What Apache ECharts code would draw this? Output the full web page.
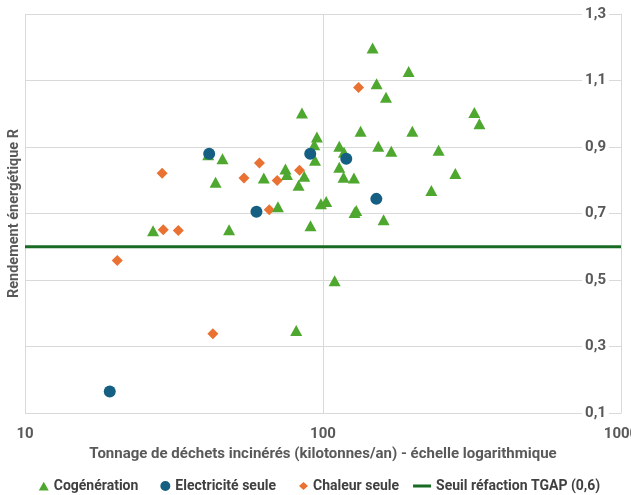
<!DOCTYPE html>
<html>
<head>
<meta charset="utf-8">
<script src="https://cdn.jsdelivr.net/npm/echarts@6/dist/echarts.min.js"></script>
<style>
  html, body { margin: 0; padding: 0; background: #fff; }
  #chart { width: 631px; height: 495px; }
</style>
</head>
<body>
<div id="chart"></div>
<script>
// Tonnage (kt/an) et rendement énergétique R par type de valorisation
const cogenTonnage = [26.9, 41.2, 46.0, 43.6, 48.4, 63.3, 74.8, 75.7, 70.6, 82.8, 86.5, 81.3, 85.0,
  95.4, 93.5, 94.0, 90.8, 98.4, 102.5, 109.4, 113.4, 117.6, 113.4, 117.2, 127.0, 127.6, 129.3,
  133.7, 146.7, 151.3, 153.3, 162.7, 159.7, 169.5, 193.8, 199.4, 231.0, 244.3, 278.0, 322.0, 334.9];
const cogenRendement = [0.648, 0.877, 0.865, 0.794, 0.651, 0.807, 0.834, 0.817, 0.720, 0.785, 0.812, 0.348, 1.002,
  0.930, 0.907, 0.860, 0.663, 0.729, 0.736, 0.498, 0.902, 0.884, 0.839, 0.809, 0.807, 0.703, 0.709,
  0.947, 1.198, 1.090, 0.902, 1.050, 0.681, 0.887, 1.127, 0.947, 0.769, 0.890, 0.820, 1.004, 0.970];

const elecTonnage = [19.25, 41.5, 59.8, 90.6, 119.7, 151.0];
const elecRendement = [0.165, 0.880, 0.705, 0.880, 0.865, 0.744];

const chaleurTonnage = [20.4, 28.85, 29.1, 32.7, 42.7, 54.3, 61.2, 66.0, 70.2, 83.4, 131.6];
const chaleurRendement = [0.559, 0.821, 0.651, 0.649, 0.338, 0.807, 0.852, 0.711, 0.799, 0.830, 1.079];

const seuilTonnage = [10, 1000];
const seuilRendement = [0.6, 0.6];

const seriesNames = ['Cogénération', 'Electricité seule', 'Chaleur seule', 'Seuil réfaction TGAP (0,6)'];
const xAxisTitle = 'Tonnage de déchets incinérés (kilotonnes/an) - échelle logarithmique';
const yAxisTitle = 'Rendement énergétique R';

const pairs = (xs, ys) => xs.map((x, i) => [x, ys[i]]);

const FONT = 'Roboto, "Liberation Sans", sans-serif';
const GREY = '#595959';
const GRID = '#d9d9d9';

// Legend glyphs in an 18x10 box; the stray points fix the box corners so
// each glyph keeps its own size and sits against the label.
const BOX = 'M0,0 L0.01,0 M0,10 L0.01,10 M18,0 L18,0.01 ';
const ICONS = {
  triangle: 'path://' + BOX + 'M13,0.8 L18,9.6 L8,9.6 Z',
  circle: 'path://' + BOX + 'M18,5 A5,5 0 1 1 8,5 A5,5 0 1 1 18,5 Z',
  diamond: 'path://' + BOX + 'M13.5,1 L18,5 L13.5,9 L9,5 Z',
  line: 'path://' + BOX + 'M0,3.6 L18,3.6 L18,6.4 L0,6.4 Z'
};

const chart = echarts.init(document.getElementById('chart'), null, { renderer: 'canvas' });

chart.setOption({
  animation: false,
  backgroundColor: '#fff',
  textStyle: { fontFamily: FONT },
  grid: { left: 25, right: 10, top: 14, bottom: 82, containLabel: false, outerBoundsMode: 'none' },
  xAxis: {
    type: 'log',
    logBase: 10,
    min: 10,
    max: 1000,
    name: xAxisTitle,
    nameLocation: 'middle',
    nameGap: 34,
    nameTextStyle: { color: GREY, fontWeight: 'bold', fontSize: 15, fontFamily: FONT },
    axisLine: { show: false },
    axisTick: { show: false },
    splitLine: { show: true, lineStyle: { color: GRID, width: 1 } },
    minorTick: { show: false },
    axisLabel: {
      color: GREY, fontWeight: 'bold', fontSize: 15, margin: 14, fontFamily: FONT,
      formatter: v => String(Math.round(v))
    }
  },
  yAxis: [
    {
      type: 'value',
      position: 'right',
      min: 0.1,
      max: 1.3,
      interval: 0.2,
      axisLine: { show: true, lineStyle: { color: GRID, width: 1 } },
      axisTick: { show: false },
      splitLine: { show: true, lineStyle: { color: GRID, width: 1 } },
      axisLabel: {
        inside: true,
        margin: 12,
        color: GREY,
        fontWeight: 'bold',
        fontSize: 15,
        fontFamily: FONT,
        backgroundColor: '#fff',
        padding: [0, 3, 0, 3],
        formatter: v => v.toFixed(1).replace('.', ',')
      }
    },
    {
      // Left-hand axis only carries the title
      type: 'value',
      position: 'left',
      min: 0.1,
      max: 1.3,
      interval: 0.2,
      name: yAxisTitle,
      nameLocation: 'middle',
      nameRotate: 90,
      nameGap: 3,
      nameTextStyle: { color: GREY, fontWeight: 'bold', fontSize: 14.5, fontFamily: FONT },
      axisLine: { show: false },
      axisTick: { show: false },
      splitLine: { show: false },
      axisLabel: { show: false }
    }
  ],
  legend: {
    bottom: 2,
    left: 'center',
    padding: 0,
    itemGap: 14,
    itemWidth: 18,
    itemHeight: 10,
    textStyle: { color: '#404040', fontWeight: 'bold', fontSize: 14, fontFamily: FONT },
    data: [
      { name: seriesNames[0], icon: ICONS.triangle },
      { name: seriesNames[1], icon: ICONS.circle },
      { name: seriesNames[2], icon: ICONS.diamond },
      { name: seriesNames[3], icon: ICONS.line }
    ]
  },
  series: [
    {
      name: seriesNames[3],
      type: 'line',
      data: pairs(seuilTonnage, seuilRendement),
      symbol: 'none',
      lineStyle: { color: '#196b24', width: 3 },
      itemStyle: { color: '#196b24' },
      z: 1
    },
    {
      name: seriesNames[0],
      type: 'scatter',
      symbol: 'triangle',
      symbolSize: [12, 11],
      itemStyle: { color: '#4ea72e', opacity: 1 },
      data: pairs(cogenTonnage, cogenRendement),
      z: 3
    },
    {
      name: seriesNames[1],
      type: 'scatter',
      symbol: 'circle',
      symbolSize: 12,
      itemStyle: { color: '#156082', opacity: 1 },
      data: pairs(elecTonnage, elecRendement),
      z: 4
    },
    {
      name: seriesNames[2],
      type: 'scatter',
      symbol: 'diamond',
      symbolSize: 11,
      itemStyle: { color: '#e97132', opacity: 1 },
      data: pairs(chaleurTonnage, chaleurRendement),
      z: 2
    }
  ]
});
</script>
</body>
</html>
